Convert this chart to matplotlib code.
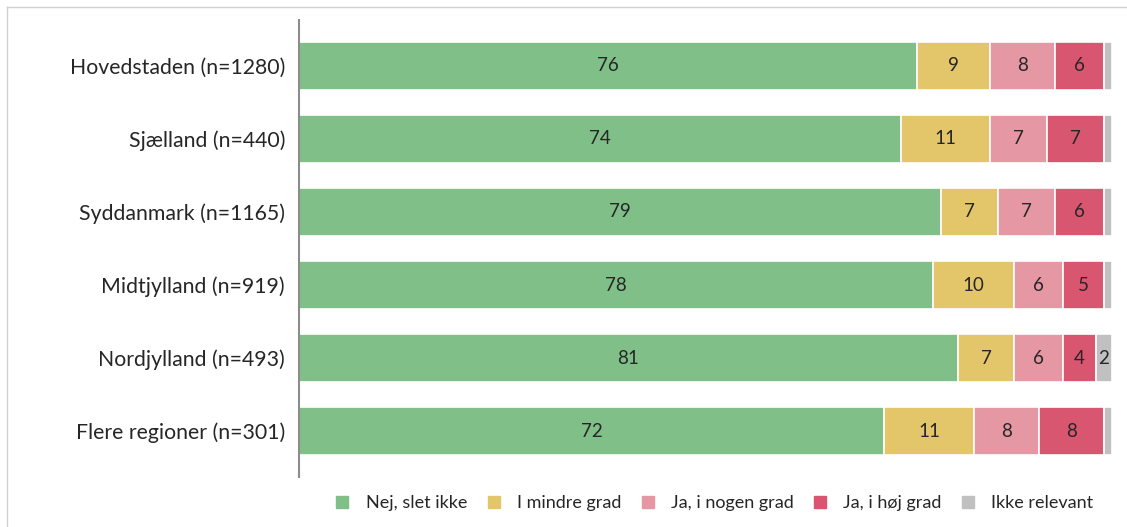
import matplotlib
matplotlib.use("Agg")
import matplotlib.pyplot as plt
from matplotlib.lines import Line2D
import numpy as np

regions = ["Hovedstaden (n=1280)", "Sjælland (n=440)", "Syddanmark (n=1165)",
           "Midtjylland (n=919)", "Nordjylland (n=493)", "Flere regioner (n=301)"]
series_names = ["Nej, slet ikke", "I mindre grad", "Ja, i nogen grad", "Ja, i høj grad", "Ikke relevant"]
nej = [76, 74, 79, 78, 81, 72]
mindre = [9, 11, 7, 10, 7, 11]
nogen = [8, 7, 7, 6, 6, 8]
hoej = [6, 7, 6, 5, 4, 8]
ikke_rel = [1, 1, 1, 1, 2, 1]
colors = ["#80C088", "#E4C66A", "#E597A4", "#D8566F", "#C0C0C0"]

plt.rcParams['font.family'] = ['Lato', 'DejaVu Sans']
W, H = 1127, 527
fig = plt.figure(figsize=(W / 100, H / 100), dpi=100)
ax = fig.add_axes([299 / W, 1 - 477 / H, (1112 - 299) / W, (477 - 20) / H])

data = [nej, mindre, nogen, hoej, ikke_rel]
y = np.arange(len(regions))
left = np.zeros(len(regions))
for name, vals, col in zip(series_names, data, colors):
    vals = np.array(vals, dtype=float)
    ax.barh(y, vals, left=left, height=0.67, color=col, edgecolor="white",
            linewidth=1.2, label=name)
    for yi, l, v in zip(y, left, vals):
        if v >= 2:
            ax.text(l + v / 2, yi, f"{int(round(v))}", ha="center", va="center",
                    fontsize=13.5, color="#262626")
    left += vals

ax.set_xlim(0, 100)
ax.set_ylim(len(regions) - 0.37, -0.63)
ax.set_yticks(y)
ax.set_yticklabels(regions, fontsize=15.3, color="#262626")
ax.tick_params(axis="y", length=0, pad=10)
ax.set_xticks([])
for s in ["top", "right", "bottom"]:
    ax.spines[s].set_visible(False)
ax.spines["left"].set_color("#8C8C8C")
ax.spines["left"].set_linewidth(1.5)

handles = [Line2D([0], [0], marker="s", linestyle="none", markersize=9,
                  markerfacecolor=c, markeredgecolor=c) for c in colors]
fig.legend(handles, series_names, loc="center", bbox_to_anchor=(709 / W, 1 - 503 / H),
           ncol=5, frameon=False, fontsize=13, handletextpad=0.3, columnspacing=0.45,
           labelcolor="#262626")

# outer frame lines
fig.add_artist(Line2D([7 / W, 1], [1 - 7 / H, 1 - 7 / H], color="#D0D0D0", linewidth=1,
                      transform=fig.transFigure))
fig.add_artist(Line2D([7 / W, 7 / W], [0, 1 - 7 / H], color="#D0D0D0", linewidth=1,
                      transform=fig.transFigure))

fig.savefig("out.png", dpi=100)
